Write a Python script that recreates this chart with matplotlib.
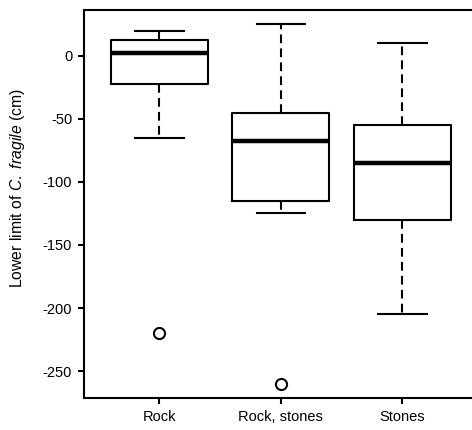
import matplotlib
matplotlib.use("Agg")
import matplotlib.pyplot as plt

# --- DATA ---
categories = ["Rock", "Rock, stones", "Stones"]
whisker_low = [-65, -125, -205]
q1 = [-22.5, -115, -130]
median = [2.5, -67.5, -85]
q3 = [12.5, -45, -55]
whisker_high = [20, 25, 10]
outliers = [[-220], [-260], []]
yticks = [0, -50, -100, -150, -200, -250]

plt.rcParams["font.family"] = ["Liberation Sans", "DejaVu Sans"]
plt.rcParams["mathtext.fontset"] = "custom"
plt.rcParams["mathtext.rm"] = "Liberation Sans"
plt.rcParams["mathtext.it"] = "Liberation Sans:italic"

fig = plt.figure(figsize=(4.72, 4.30), dpi=100)
ax = fig.add_axes([0.178, 0.0744, 0.834, 0.9023])

stats = []
for i, name in enumerate(categories):
    stats.append({
        "label": name,
        "whislo": whisker_low[i],
        "q1": q1[i],
        "med": median[i],
        "q3": q3[i],
        "whishi": whisker_high[i],
        "fliers": outliers[i],
    })

ax.bxp(stats, positions=[1, 2, 3], widths=0.8, showfliers=True,
       boxprops=dict(color="black", linewidth=1.5),
       medianprops=dict(color="black", linewidth=3.2, solid_capstyle="butt"),
       whiskerprops=dict(color="black", linewidth=1.5, linestyle=(0, (4.2, 2.5))),
       capprops=dict(color="black", linewidth=1.5),
       capwidths=0.4,
       flierprops=dict(marker="o", markerfacecolor="white", markeredgecolor="black",
                       markersize=8, markeredgewidth=1.5))

ax.set_xlim(0.38, 3.62)
ax.set_ylim(-271.4, 36.4)
ax.set_yticks(yticks)
ax.set_yticklabels([str(v) for v in yticks])
ax.set_xticks([1, 2, 3])
ax.set_xticklabels(categories)
ax.tick_params(axis="both", labelsize=10.5, length=4.5, width=1.5, pad=4)

for side in ["left", "bottom", "top", "right"]:
    ax.spines[side].set_linewidth(1.5)

ax.set_ylabel(r"Lower limit of$\ \mathit{C.\ fragile}$ (cm)", fontsize=11.3)
ax.yaxis.set_label_coords(-0.145, 0.54)

fig.savefig("out.png", dpi=100)
